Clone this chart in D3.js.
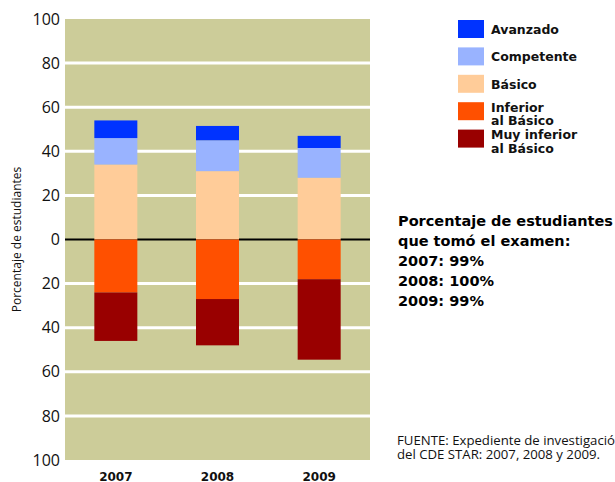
<!DOCTYPE html>
<html>
<head>
<meta charset="utf-8">
<script src="https://cdn.jsdelivr.net/npm/d3@7"></script>
<style>
  body { margin: 0; background: #fff; }
  svg { display: block; font-family: "Open Sans", "Noto Sans", sans-serif; }
</style>
</head>
<body>
<div id="chartRoot"></div>
<script>
// data (percent of students)
var years = ["2007", "2008", "2009"];
var avanzado    = [8, 6.5, 5.5];
var competente  = [12, 14, 13.5];
var basico      = [34, 31, 28];
var inferior    = [24, 27, 18];
var muyInferior = [22, 21, 36.5];

var levelNames  = ["Avanzado", "Competente", "Básico", "Inferior\nal Básico", "Muy inferior\nal Básico"];
var levelColors = ["#0033ff", "#99b3ff", "#ffcc99", "#ff5000", "#990000"];

var yTicks = [-100, -80, -60, -40, -20, 0, 20, 40, 60, 80, 100];
var gridTicks = [-80, -60, -40, -20, 20, 40, 60, 80];

var infoLines = ["Porcentaje de estudiantes", "que tomó el examen:", "2007: 99%", "2008: 100%", "2009: 99%"];
var sourceLines = ["FUENTE: Expediente de investigación", "del CDE STAR: 2007, 2008 y 2009."];

var width = 615, height = 482;
var plot = {left: 65, right: 370, top: 19, bottom: 460};
var boldFont = "DejaVu Sans, sans-serif";

var svg = d3.select("#chartRoot").append("svg")
    .attr("width", width)
    .attr("height", height);

var x = d3.scaleBand()
    .domain(years)
    .range([plot.left, plot.right])
    .paddingInner(0.577)
    .paddingOuter(0.2885);

// above zero goes up, below zero goes down (shown as positive on the axis)
var y = d3.scaleLinear()
    .domain([-100, 100])
    .range([plot.bottom, plot.top]);

// background of plot
svg.append("rect")
    .attr("x", plot.left)
    .attr("y", plot.top)
    .attr("width", plot.right - plot.left)
    .attr("height", plot.bottom - plot.top)
    .attr("fill", "#cccc99");

// white grid lines
svg.selectAll(".grid")
    .data(gridTicks)
    .enter().append("line")
    .attr("class", "grid")
    .attr("x1", plot.left)
    .attr("x2", plot.right)
    .attr("y1", function(d) { return y(d); })
    .attr("y2", function(d) { return y(d); })
    .attr("stroke", "#fff")
    .attr("stroke-width", 3);

// zero line
svg.append("line")
    .attr("x1", plot.left)
    .attr("x2", plot.right)
    .attr("y1", y(0))
    .attr("y2", y(0))
    .attr("stroke", "#000")
    .attr("stroke-width", 2);

// build rows for the stack, below-basic values are negative
var keys = ["basico", "competente", "avanzado", "inferior", "muyInferior"];
var keyColor = {basico: levelColors[2], competente: levelColors[1], avanzado: levelColors[0],
                inferior: levelColors[3], muyInferior: levelColors[4]};
var rows = years.map(function(yr, i) {
    return {year: yr, basico: basico[i], competente: competente[i], avanzado: avanzado[i],
            inferior: -inferior[i], muyInferior: -muyInferior[i]};
});

var series = d3.stack()
    .keys(keys)
    .offset(d3.stackOffsetDiverging)(rows);

svg.selectAll(".layer")
    .data(series)
    .enter().append("g")
    .attr("class", "layer")
    .attr("fill", function(d) { return keyColor[d.key]; })
  .selectAll("rect")
    .data(function(d) { return d; })
    .enter().append("rect")
    .attr("x", function(d) { return x(d.data.year); })
    .attr("width", x.bandwidth())
    .attr("y", function(d) { return y(Math.max(d[0], d[1])); })
    .attr("height", function(d) { return Math.abs(y(d[0]) - y(d[1])); });

// y axis labels
var yAxis = d3.axisLeft(y)
    .tickValues(yTicks)
    .tickSize(0)
    .tickPadding(5)
    .tickFormat(function(d) { return Math.abs(d); });

var gy = svg.append("g")
    .attr("transform", "translate(" + plot.left + ",0)")
    .call(yAxis);
gy.select(".domain").remove();
gy.selectAll("text")
    .attr("font-size", 16)
    .attr("font-family", "Open Sans, sans-serif")
    .attr("fill", "#111");

svg.append("text")
    .attr("transform", "translate(21," + y(0) + ") rotate(-90)")
    .attr("text-anchor", "middle")
    .attr("font-size", 12)
    .attr("fill", "#111")
    .text("Porcentaje de estudiantes");

// x axis labels
var xAxis = d3.axisBottom(x).tickSize(0).tickPadding(0);
var gx = svg.append("g")
    .attr("transform", "translate(0,0)")
    .call(xAxis);
gx.select(".domain").remove();
gx.selectAll("text")
    .attr("y", 480.5)
    .attr("dy", null)
    .attr("font-size", 12)
    .attr("font-weight", "bold")
    .attr("font-family", boldFont)
    .attr("fill", "#111");

// legend
var legend = svg.selectAll(".legend")
    .data(levelNames)
    .enter().append("g")
    .attr("class", "legend")
    .attr("transform", function(d, i) { return "translate(458," + (20 + i * 27.4) + ")"; });

legend.append("rect")
    .attr("width", 26)
    .attr("height", 18)
    .attr("fill", function(d, i) { return levelColors[i]; });

legend.append("text")
    .attr("x", 33)
    .attr("font-size", 12.5)
    .attr("font-weight", "bold")
    .attr("font-family", boldFont)
    .attr("fill", "#111")
    .selectAll("tspan")
    .data(function(d) { return d.split("\n"); })
    .enter().append("tspan")
    .attr("x", 33)
    .attr("y", function(d, i, nodes) { return nodes.length == 1 ? 14 : 9.5 + i * 13.5; })
    .text(function(d) { return d; });

// info about who took the test
svg.append("g").selectAll("text")
    .data(infoLines)
    .enter().append("text")
    .attr("x", 398)
    .attr("y", function(d, i) { return 226 + i * 20; })
    .attr("font-size", 14.5)
    .attr("font-weight", "bold")
    .attr("font-family", boldFont)
    .attr("fill", "#000")
    .text(function(d) { return d; });

// source note
svg.append("g").selectAll("text")
    .data(sourceLines)
    .enter().append("text")
    .attr("x", 397)
    .attr("y", function(d, i) { return 444.5 + i * 14; })
    .attr("font-size", 13.2)
    .attr("fill", "#111")
    .text(function(d) { return d; });
</script>
</body>
</html>
